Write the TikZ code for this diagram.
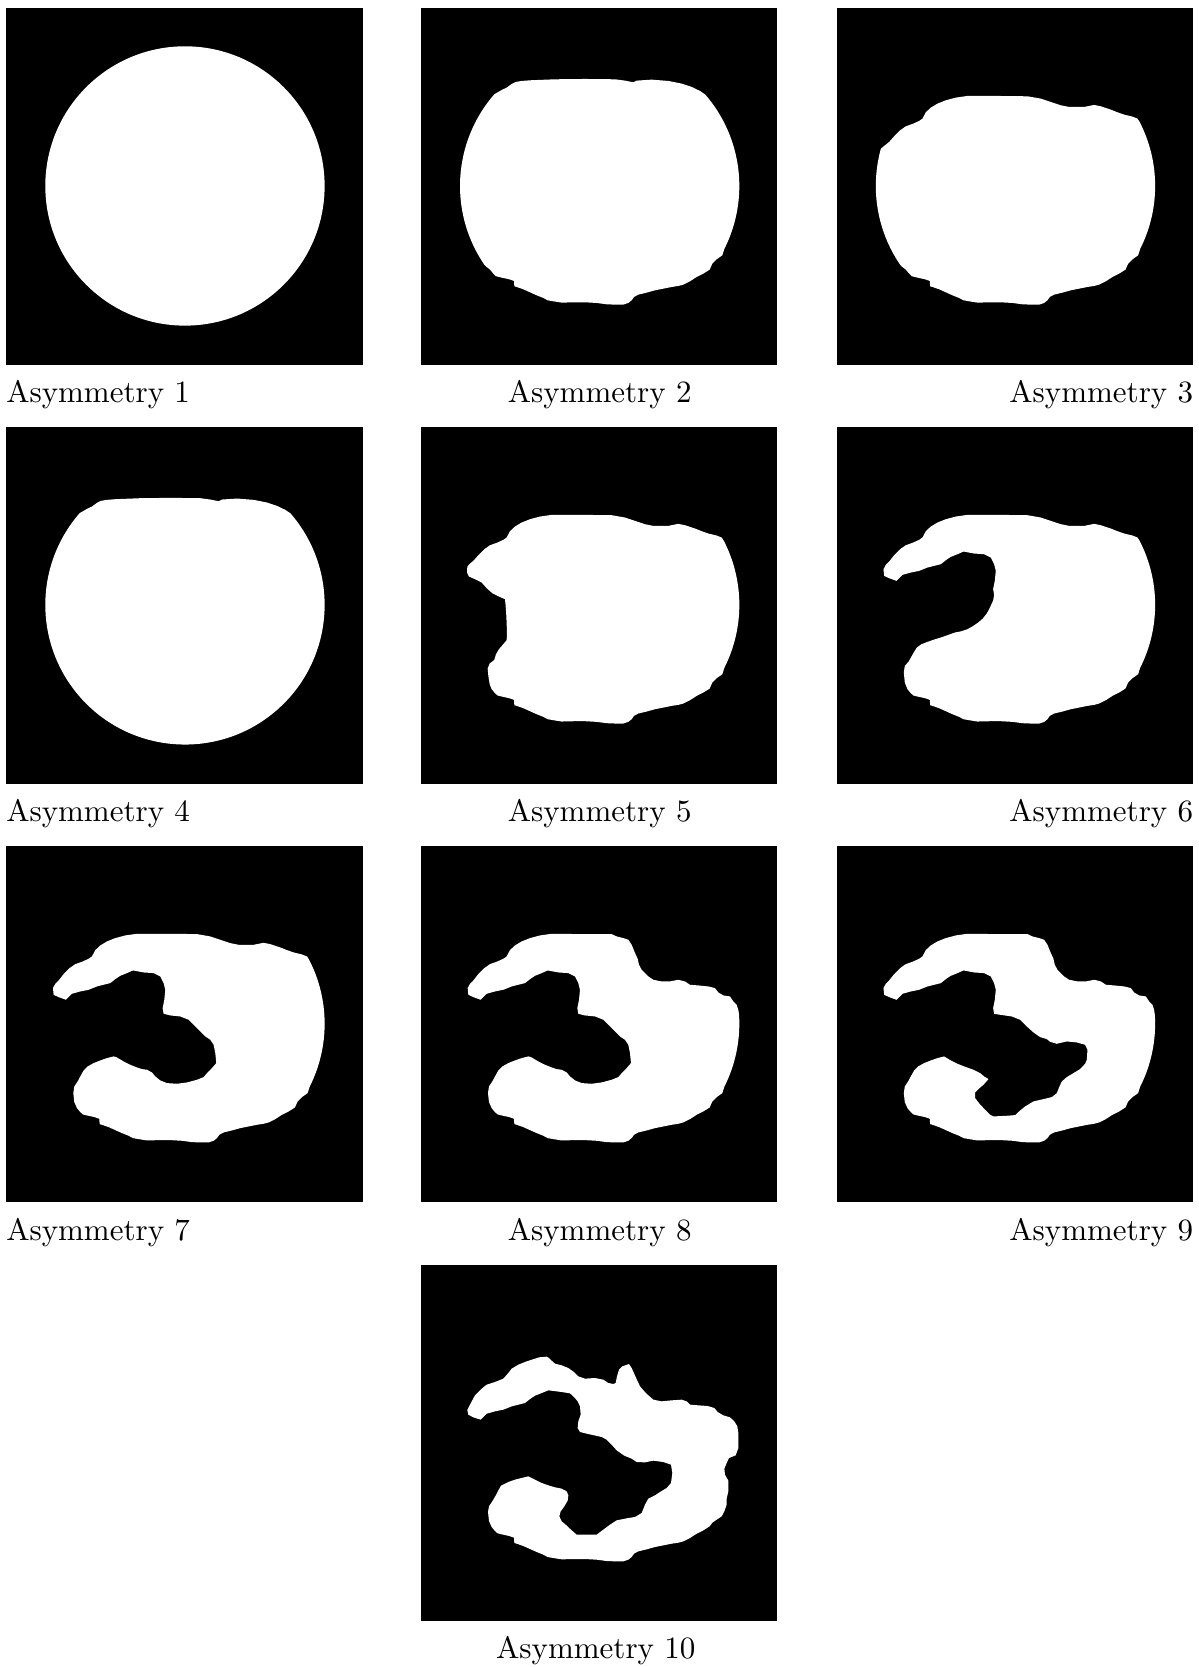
\documentclass[tikz,border=0pt]{standalone}
\def\segTtwo{-- (250,275) -- (262,268) -- (275,262) -- (290,251) -- (302,245) -- (320,242) -- (345,240) -- (420,237) -- (510,236) -- (600,237) -- (630,241) -- (655,246) -- (665,241) -- (710,238) -- (760,242) -- (800,250) -- (830,260) -- (855,272)}
\def\segTthreeL{-- (190,408) -- (208,390) -- (225,378) -- (245,371) -- (265,362) -- (275,355) -- (285,336) -- (300,322) -- (320,310) -- (345,300) -- (375,292) -- (410,287)}
\def\segTthreeR{-- (500,287) -- (590,288) -- (630,295) -- (660,305) -- (690,315) -- (715,320) -- (760,320) -- (790,314) -- (810,318) -- (840,328) -- (860,336) -- (880,343) -- (905,349) -- (920,355)}
\def\segTopEight{-- (500,288) -- (590,288) -- (605,295) -- (625,300) -- (640,305) -- (650,320) -- (658,340) -- (668,362) -- (672,380) -- (680,395) -- (690,405) -- (700,415) -- (715,425) -- (740,430) -- (765,430) -- (790,425) -- (810,430) -- (825,440) -- (850,442) -- (880,445) -- (900,450) -- (910,463) -- (925,472) -- (945,475) -- (955,490) -- (965,500) -- (970,515)}
\def\segBotA{-- (922,765) -- (905,777) -- (892,790)}
\def\segBotB{-- (884,808) -- (865,820) -- (845,830) -- (825,843) -- (805,853) -- (790,857) -- (770,860) -- (745,865) -- (720,870) -- (695,877) -- (670,883) -- (657,890) -- (650,900) -- (640,908) -- (625,913) -- (600,913) -- (575,912) -- (545,908) -- (510,906) -- (480,906) -- (440,907) -- (415,903) -- (398,900) -- (385,893) -- (365,885) -- (345,876) -- (325,867) -- (305,860) -- (298,858) -- (297,842) -- (283,837) -- (260,832) -- (248,829)}
\def\segLowLeft{-- (240,822) -- (230,810) -- (222,792) -- (219,765) -- (222,745) -- (232,730) -- (240,715) -- (250,697) -- (262,685) -- (280,675) -- (300,667) -- (320,660) -- (340,655)}
\def\segUpper{-- (487,510) -- (492,485) -- (495,455) -- (490,435) -- (480,415) -- (460,405) -- (430,403) -- (398,397) -- (380,405) -- (360,413) -- (345,423) -- (330,435) -- (310,440) -- (290,445) -- (265,455) -- (240,460) -- (215,467) -- (205,477) -- (197,485) -- (175,477) -- (160,470) -- (158,450) -- (165,437) -- (175,427)}
\def\segFive{-- (240,822) -- (230,810) -- (224,795) -- (220,770) -- (218,748) -- (224,733) -- (238,722) -- (243,705) -- (252,690) -- (263,677) -- (275,663) -- (276,640) -- (274,590) -- (272,560) -- (270,540) -- (252,532) -- (232,522) -- (215,507) -- (200,490) -- (180,480) -- (162,472) -- (156,460) -- (157,442) -- (165,433) -- (175,425)}
\def\segSix{-- (240,822) -- (230,810) -- (222,790) -- (219,760) -- (222,740) -- (233,728) -- (242,712) -- (250,698) -- (258,685) -- (272,675) -- (290,668) -- (310,661) -- (330,655) -- (350,648) -- (372,640) -- (392,636) -- (410,630) -- (426,621) -- (441,611) -- (456,598) -- (468,583) -- (478,564) -- (487,544) -- (490,527)}
\def\segSeven{-- (348,657) -- (370,670) -- (390,680) -- (410,688) -- (425,693) -- (440,695) -- (455,703) -- (465,715) -- (480,727) -- (500,735) -- (530,737) -- (560,733) -- (590,725) -- (610,717) -- (622,703) -- (635,690) -- (648,675) -- (645,645) -- (640,620) -- (630,605) -- (615,595) -- (600,580) -- (580,560) -- (565,545) -- (540,535) -- (510,532) -- (490,527)}
\def\segNine{-- (360,667) -- (380,677) -- (400,685) -- (428,695) -- (448,705) -- (460,715) -- (473,723) -- (458,740) -- (446,750) -- (433,763) -- (433,780) -- (446,797) -- (463,815) -- (478,830) -- (488,835) -- (528,833) -- (553,831) -- (568,817) -- (583,805) -- (608,790) -- (638,783) -- (663,777) -- (678,765) -- (686,745) -- (693,730) -- (708,717) -- (728,705) -- (748,693) -- (763,677) -- (768,665) -- (770,635) -- (763,620) -- (738,613) -- (708,610) -- (678,617) -- (658,611) -- (648,603) -- (628,597) -- (608,583) -- (588,565) -- (568,545) -- (543,535) -- (508,530) -- (490,527)}
\tikzset{
  panelbg/.style={fill=black},
  blob/.style={fill=white},
  lbl/.style={inner sep=0pt, outer sep=0pt}
}
\begin{document}
\begin{tikzpicture}[x=0.3225pt,y=-0.3225pt]
\useasboundingbox[fill=white] (0,0) rectangle (1198,1667);
% Panel 1
\begin{scope}[shift={(0.3,0.3)},scale=1/3]
  \fill[panelbg] (18,24) rectangle (1087,1093);
  \fill[blob] (554,557) circle[radius=419];
\end{scope}
% Panel 2
\begin{scope}[shift={(415,0.3)},scale=1/3]
  \fill[panelbg] (18,24) rectangle (1087,1093);
  \fill[blob] (238.2,281.6) \segTtwo -- (870.7,282.7) arc[start angle=-40.9,end angle=26.8,radius=419] \segBotA \segBotB -- (243,828) -- (235,820) -- (225,808) -- (215,800) -- (208.3,793.7) arc[start angle=145.6,end angle=221.1,radius=419] -- cycle;
\end{scope}
% Panel 3
\begin{scope}[shift={(830.8,0.3)},scale=1/3]
  \fill[panelbg] (18,24) rectangle (1087,1093);
  \fill[blob] (150.2,445.0) -- (160,437) -- (175,425) \segTthreeL \segTthreeR -- (925.7,363.5) arc[start angle=-27.5,end angle=26.8,radius=419] \segBotA \segBotB -- (243,828) -- (235,820) -- (225,808) -- (215,800) -- (208.3,793.7) arc[start angle=145.6,end angle=195.5,radius=419] -- cycle;
\end{scope}
% Panel 4
\begin{scope}[shift={(0.3,419.2)},scale=1/3]
  \fill[panelbg] (18,24) rectangle (1087,1093);
  \fill[blob] (238.2,281.6) \segTtwo -- (870.7,282.7) arc[start angle=-40.9,end angle=221.1,radius=419] -- cycle;
\end{scope}
% Panel 5
\begin{scope}[shift={(415,419.2)},scale=1/3]
  \fill[panelbg] (18,24) rectangle (1087,1093);
  \fill[blob] (175,425) \segTthreeL \segTthreeR -- (925.7,363.5) arc[start angle=-27.5,end angle=26.8,radius=419] \segBotA \segBotB \segFive -- cycle;
\end{scope}
% Panel 6
\begin{scope}[shift={(830.8,419.2)},scale=1/3]
  \fill[panelbg] (18,24) rectangle (1087,1093);
  \fill[blob] (175,427) \segTthreeL \segTthreeR -- (925.7,363.5) arc[start angle=-27.5,end angle=26.8,radius=419] \segBotA \segBotB \segSix \segUpper -- cycle;
\end{scope}
% Panel 7
\begin{scope}[shift={(0.3,838.1)},scale=1/3]
  \fill[panelbg] (18,24) rectangle (1087,1093);
  \fill[blob] (175,427) \segTthreeL \segTthreeR -- (925.7,363.5) arc[start angle=-27.5,end angle=26.8,radius=419] \segBotA \segBotB \segLowLeft \segSeven \segUpper -- cycle;
\end{scope}
% Panel 8
\begin{scope}[shift={(415,838.1)},scale=1/3]
  \fill[panelbg] (18,24) rectangle (1087,1093);
  \fill[blob] (175,427) \segTthreeL \segTopEight -- (972.1,530.0) arc[start angle=-3.7,end angle=26.8,radius=419] \segBotA \segBotB \segLowLeft \segSeven \segUpper -- cycle;
\end{scope}
% Panel 9
\begin{scope}[shift={(830.8,838.1)},scale=1/3]
  \fill[panelbg] (18,24) rectangle (1087,1093);
  \fill[blob] (175,427) \segTthreeL \segTopEight -- (972.1,530.0) arc[start angle=-3.7,end angle=26.8,radius=419] \segBotA \segBotB \segLowLeft \segNine \segUpper -- cycle;
\end{scope}
% Panel 10
\begin{scope}[shift={(415,1257)},scale=1/3]
  \fill[panelbg] (18,24) rectangle (1087,1093);
  \fill[blob] (165,443) -- (180,415) -- (200,395) -- (215,383) -- (240,375) -- (265,365) -- (280,348) -- (290,335) -- (310,323) -- (335,313) -- (360,305) -- (372,301) -- (395,299) -- (402,303) -- (410,311) -- (420,320) -- (440,325) -- (460,333) -- (478,346) -- (490,358) -- (510,365) -- (540,363) -- (565,368) -- (580,378) -- (595,381) -- (602,378) -- (606,358) -- (612,338) -- (622,328) -- (642,321) -- (650,333) -- (658,351) -- (667,371) -- (675,388) -- (688,403) -- (700,415) -- (715,428) -- (740,433) -- (770,430) -- (800,428) -- (815,433) -- (825,443) -- (850,445) -- (878,447) -- (898,453) -- (908,465) -- (925,475) -- (945,481) -- (958,493) -- (967,508) -- (970,528) -- (970,573) -- (962,595) -- (942,603) -- (935,618) -- (928,635) -- (930,653) -- (940,671) -- (940,703) -- (935,725) -- (935,743) -- (928,763) -- (920,778) -- (905,788) -- (892,797) \segBotB
  -- (240,822) -- (230,810) -- (222,792) -- (219,765) -- (222,748) -- (232,733) -- (242,716) -- (250,700) -- (258,686) -- (280,675) -- (300,668) -- (320,663) -- (340,658) -- (360,668) -- (380,678) -- (400,685) -- (420,691) -- (440,695) -- (455,703) -- (460,715) -- (458,731) -- (448,748) -- (437,763) -- (433,778) -- (440,793) -- (452,803) -- (468,818) -- (485,833) -- (545,833) -- (565,818) -- (585,803) -- (605,790) -- (640,783) -- (660,780) -- (680,768) -- (690,743) -- (700,725) -- (720,715) -- (735,705) -- (755,693) -- (768,678) -- (772,648) -- (768,623) -- (745,615) -- (715,611) -- (690,616) -- (665,615) -- (650,605) -- (628,596) -- (605,580) -- (590,563) -- (575,548) -- (560,540) -- (520,531) -- (495,525) -- (488,513) -- (490,493) -- (497,473) -- (495,448) -- (488,433) -- (478,421) -- (465,409) -- (440,405) -- (400,400) -- (378,409) -- (360,416) -- (345,426) -- (330,438) -- (290,448) -- (265,458) -- (240,463) -- (215,470) -- (205,480) -- (197,488) -- (175,481) -- (160,473) -- (157,459) -- cycle;
\end{scope}
% Labels
\node[lbl,anchor=base west] (l1) at (6.3,402.3) {Asymmetry 1};
\node[lbl,anchor=base] (l2) at (599.7,402.3) {Asymmetry 2};
\node[lbl,anchor=base east] (l3) at (1193.1,402.3) {Asymmetry 3};
\node[lbl,anchor=base west] (l4) at (6.3,821.2) {Asymmetry 4};
\node[lbl,anchor=base] (l5) at (599.7,821.2) {Asymmetry 5};
\node[lbl,anchor=base east] (l6) at (1193.1,821.2) {Asymmetry 6};
\node[lbl,anchor=base west] (l7) at (6.3,1240.1) {Asymmetry 7};
\node[lbl,anchor=base] (l8) at (599.7,1240.1) {Asymmetry 8};
\node[lbl,anchor=base east] (l9) at (1193.1,1240.1) {Asymmetry 9};
\node[lbl,anchor=base] (l10) at (595.8,1658.5) {Asymmetry 10};
\end{tikzpicture}
\end{document}
